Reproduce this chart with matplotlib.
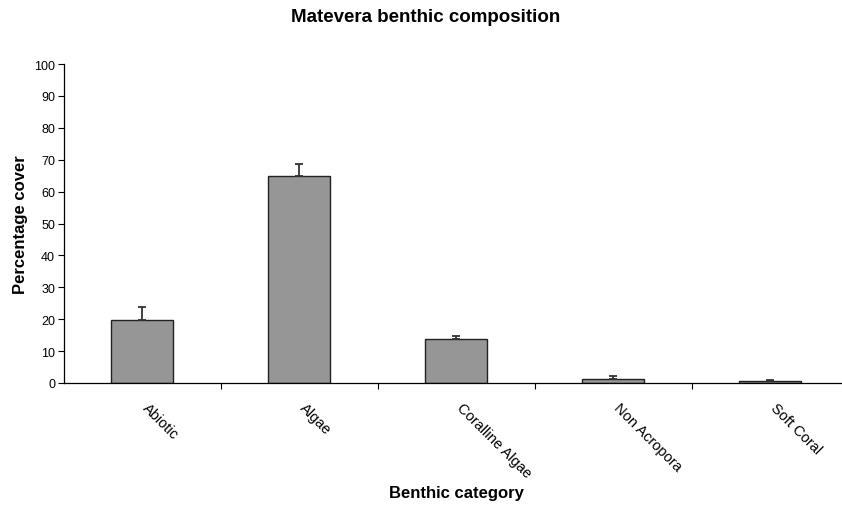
import matplotlib
matplotlib.use("Agg")
import matplotlib.pyplot as plt
import numpy as np

plt.rcParams['font.family'] = ['Liberation Sans', 'DejaVu Sans']

# Data
categories = ["Abiotic", "Algae", "Coralline Algae", "Non Acropora", "Soft Coral"]
cover = [19.7, 65.0, 13.8, 1.3, 0.5]
err = [4.2, 3.7, 1.0, 1.0, 0.3]

W, H = 842, 510
fig = plt.figure(figsize=(W / 100, H / 100), dpi=100)
left, right, bottom, top = 63.5, 842, 384, 65
ax = fig.add_axes([left / W, 1 - bottom / H, (right - left) / W, (bottom - top) / H])

x = np.arange(len(categories))
ax.bar(x, cover, width=0.4, color="#969696", edgecolor="#222222", linewidth=1.0, zorder=2)
ax.errorbar(x, cover, yerr=[np.zeros(len(err)), err], fmt="none",
            ecolor="#333333", elinewidth=1.3, capsize=3, capthick=1.3, zorder=3)

# x axis cut a bit at the right like the original
ax.set_xlim(-0.5, 4.5 - (848.5 - 842) / 157)
ax.set_ylim(0, 100)
ax.set_yticks(np.arange(0, 101, 10))
ax.tick_params(axis="y", labelsize=9, length=4, width=0.8, direction="out", pad=2)

ax.set_xticks(np.arange(0.5, 4.5, 1.0))
ax.set_xticklabels([])
ax.tick_params(axis="x", length=4, width=0.8, direction="out")
for i, c in enumerate(categories):
    ax.text(i + 0.02, -7.0, c, rotation=-45, rotation_mode="anchor",
            ha="left", va="center", fontsize=10.5, transform=ax.transData, clip_on=False)

for s in ["top", "right"]:
    ax.spines[s].set_visible(False)
ax.spines["left"].set_linewidth(0.9)
ax.spines["bottom"].set_linewidth(0.9)

fig.text(426 / W, 1 - 18 / H, "Matevera benthic composition", ha="center", va="center",
         fontsize=13.5, fontweight="bold")
fig.text(456 / W, 1 - 494 / H, "Benthic category", ha="center", va="center",
         fontsize=12, fontweight="bold")
fig.text(21 / W, 1 - 225 / H, "Percentage cover", ha="center", va="center",
         rotation=90, fontsize=12, fontweight="bold")

plt.savefig("out.png", dpi=100)
